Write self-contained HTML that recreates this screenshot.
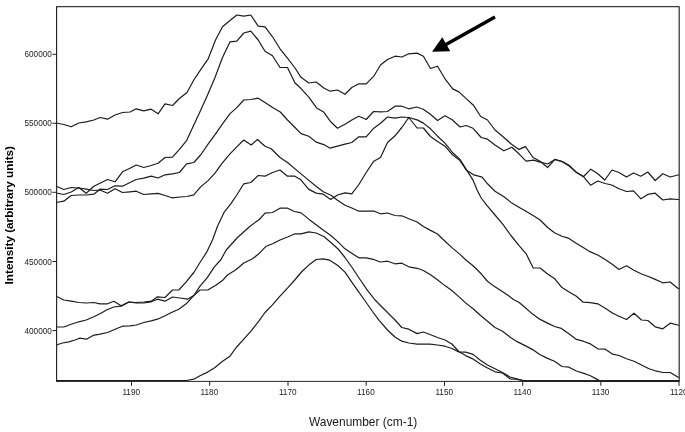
<!DOCTYPE html>
<html><head><meta charset="utf-8"><title>Spectra</title>
<style>
html,body{margin:0;padding:0;background:#fff;}
body{width:685px;height:432px;overflow:hidden;font-family:"Liberation Sans",Arial,sans-serif;}
svg{display:block}
.c path{fill:none;stroke:#1c1c1c;stroke-width:1.2;stroke-linejoin:round;stroke-linecap:butt}
.tk{font-size:8.2px;fill:#222}
</style></head><body>
<svg width="685" height="432" viewBox="0 0 685 432" font-family="Liberation Sans, Arial, sans-serif">
<rect width="685" height="432" fill="#fff"/>
<defs><clipPath id="cp"><rect x="56" y="6" width="623.6" height="375.9"/></clipPath></defs>

<g class="c" clip-path="url(#cp)">
<path d="M56.2 123.0 L63.8 124.5 L71.2 126.8 L78.8 123.0 L86.2 121.8 L93.8 120.0 L100.0 117.5 L107.5 119.2 L115.0 115.0 L122.5 112.5 L130.0 112.0 L136.2 108.8 L143.8 110.8 L151.2 109.2 L158.1 113.8 L165.0 103.8 L172.5 105.5 L179.4 98.5 L187.0 92.5 L193.8 80.0 L201.2 68.8 L208.2 58.8 L215.5 40.0 L222.5 26.8 L230.0 20.5 L236.8 15.0 L243.8 16.2 L250.8 15.0 L258.2 26.2 L265.0 26.8 L272.5 36.8 L280.0 48.8 L287.5 58.2 L295.0 68.0 L301.0 77.3 L308.8 83.0 L316.2 82.0 L323.8 88.0 L330.2 91.2 L337.5 90.0 L345.0 94.2 L351.8 87.5 L358.8 83.8 L366.2 83.8 L373.8 76.2 L380.5 65.0 L387.5 59.5 L395.0 56.2 L401.8 57.0 L408.8 53.8 L417.1 53.1 L423.4 56.2 L430.5 68.5 L437.5 66.2 L445.0 78.8 L452.7 88.9 L458.8 91.9 L466.2 98.6 L473.4 105.2 L480.7 116.5 L487.5 120.0 L495.0 130.0 L502.5 136.2 L510.9 143.7 L518.9 149.4 L525.5 146.6 L533.0 157.5 L540.1 161.2 L547.6 167.5 L554.9 159.4 L562.2 161.5 L569.5 166.2 L576.4 172.2 L583.6 176.5 L590.8 169.2 L597.8 173.8 L604.8 180.0 L612.0 170.0 L619.0 172.5 L626.5 177.0 L633.5 173.0 L640.8 176.2 L647.8 172.0 L655.2 180.5 L662.8 173.8 L670.2 177.0 L677.8 175.0 L679.2 174.8"/>
<path d="M56.2 193.0 L63.8 194.5 L71.2 192.0 L78.8 187.5 L86.2 193.2 L93.8 186.2 L100.0 183.2 L107.5 179.5 L115.0 181.8 L122.5 171.8 L130.0 168.2 L136.2 165.0 L143.8 167.5 L151.2 165.5 L158.1 163.2 L165.0 157.5 L172.5 157.2 L179.4 149.4 L186.6 140.6 L193.8 125.0 L200.2 111.3 L207.0 96.2 L215.0 77.5 L222.5 57.5 L230.0 41.8 L236.8 41.2 L243.8 33.0 L250.8 31.2 L258.2 40.0 L265.0 51.2 L272.5 55.8 L280.0 67.5 L287.5 67.5 L295.0 83.0 L300.8 88.3 L308.8 97.2 L316.6 107.9 L323.6 111.9 L330.2 121.2 L337.5 128.2 L345.0 124.2 L351.8 120.0 L358.8 116.2 L366.2 119.5 L373.6 111.5 L380.5 111.8 L387.5 111.5 L395.0 106.2 L401.8 106.2 L408.8 108.8 L416.7 107.0 L423.2 109.2 L430.4 114.3 L437.5 120.5 L445.0 115.8 L452.5 120.0 L460.0 127.0 L466.2 125.5 L473.1 128.3 L481.2 137.5 L487.5 139.2 L495.0 145.0 L503.8 150.8 L511.9 147.2 L518.9 153.8 L526.1 161.2 L533.6 160.2 L540.1 162.1 L547.6 164.0 L554.9 159.5 L562.2 161.6 L569.5 165.6 L576.4 172.5 L583.8 177.1 L590.6 185.2 L597.8 181.0 L605.0 183.5 L611.8 185.0 L619.0 188.8 L626.5 191.5 L633.5 190.8 L640.9 198.8 L647.8 194.4 L655.2 193.2 L662.8 200.0 L670.2 198.8 L677.8 199.5 L679.2 199.6"/>
<path d="M56.2 202.5 L63.8 201.2 L71.2 195.5 L78.8 195.0 L86.2 195.0 L93.8 194.2 L100.0 189.2 L107.5 189.5 L115.0 185.8 L122.5 186.2 L130.0 182.5 L136.2 179.5 L143.8 178.2 L151.2 176.2 L158.1 178.0 L165.0 174.8 L172.5 173.8 L179.4 172.5 L186.6 163.8 L193.8 162.5 L200.6 155.0 L207.9 144.4 L215.2 134.4 L222.2 124.3 L230.0 113.6 L236.3 108.1 L243.8 100.0 L250.8 99.5 L258.2 98.2 L265.0 102.5 L273.4 108.1 L280.3 112.0 L287.5 120.0 L295.0 127.5 L301.0 133.6 L308.8 136.2 L316.2 142.1 L323.8 144.6 L330.2 148.2 L337.5 146.2 L345.0 144.2 L351.8 142.5 L358.8 136.8 L366.2 136.8 L373.8 128.2 L380.5 123.2 L387.5 117.0 L395.0 118.2 L401.8 117.0 L408.8 117.5 L417.1 119.9 L423.4 123.1 L430.5 128.8 L437.5 136.2 L445.0 143.1 L452.5 152.5 L460.0 159.4 L466.2 169.4 L473.0 180.1 L477.1 189.9 L481.2 198.0 L487.5 206.2 L495.0 215.0 L502.5 223.8 L510.9 235.5 L518.9 245.4 L526.4 254.2 L533.2 268.0 L540.1 268.0 L547.6 274.0 L554.8 278.8 L562.0 287.6 L569.5 292.2 L576.4 296.2 L583.2 302.2 L590.4 302.6 L597.8 303.8 L605.2 308.2 L612.8 313.2 L619.0 316.2 L626.5 319.5 L634.0 313.2 L641.5 320.0 L647.8 320.5 L655.2 326.8 L662.8 328.8 L670.2 323.2 L677.8 325.0 L679.2 325.2"/>
<path d="M56.2 186.2 L63.8 189.5 L71.2 187.5 L78.8 188.0 L86.2 189.2 L93.8 190.5 L100.0 190.0 L107.5 193.2 L115.0 188.8 L122.5 192.5 L130.0 191.8 L136.2 191.2 L143.8 194.5 L151.2 193.8 L158.1 193.4 L165.0 195.5 L171.9 197.8 L180.0 197.0 L186.9 196.5 L193.8 194.8 L200.6 186.9 L208.1 180.6 L215.0 173.1 L222.2 163.2 L230.0 153.8 L237.5 146.2 L243.8 140.0 L251.2 145.0 L257.5 139.5 L265.0 146.2 L271.2 148.8 L280.0 157.5 L287.5 162.5 L297.1 170.6 L307.1 178.9 L315.4 185.8 L323.3 191.7 L331.4 195.5 L337.2 200.0 L345.0 205.2 L351.8 208.0 L358.8 211.2 L366.2 211.2 L374.3 211.2 L380.5 213.8 L387.5 213.0 L395.0 215.5 L401.8 215.8 L408.8 218.8 L417.1 222.0 L423.4 226.5 L430.5 230.4 L437.5 234.0 L445.0 241.2 L452.5 248.1 L460.0 254.4 L466.2 260.2 L473.1 265.8 L481.2 273.8 L487.2 281.0 L493.1 285.6 L500.0 290.0 L507.5 295.0 L513.8 299.7 L518.9 302.2 L525.1 307.5 L532.6 314.1 L540.1 319.4 L547.6 323.1 L554.5 326.5 L561.4 328.4 L568.9 333.8 L576.4 339.4 L583.2 341.2 L590.4 343.9 L597.8 348.8 L605.2 349.2 L612.8 354.2 L619.0 355.5 L626.5 358.8 L634.0 361.2 L641.5 365.0 L649.0 368.8 L655.2 370.8 L662.8 372.5 L670.2 372.5 L677.8 377.0 L679.2 377.4"/>
<path d="M56.2 296.2 L63.8 300.0 L71.2 301.2 L78.8 302.5 L86.2 303.0 L93.8 302.5 L100.0 303.8 L107.5 303.8 L113.8 301.2 L121.2 305.8 L128.8 302.0 L136.2 302.5 L143.8 302.0 L151.2 301.2 L157.5 296.8 L165.0 297.5 L172.5 290.0 L178.8 290.0 L186.2 281.8 L193.8 272.5 L200.0 262.5 L206.9 251.8 L212.5 240.0 L217.5 226.2 L224.4 211.8 L230.6 204.2 L236.8 195.0 L243.8 183.8 L250.8 182.5 L258.2 175.5 L265.0 176.2 L272.5 172.5 L280.0 170.0 L287.5 176.2 L295.0 176.2 L300.8 179.8 L308.8 189.4 L316.2 193.1 L323.3 194.2 L330.6 199.4 L337.5 195.0 L345.0 192.8 L351.8 193.8 L359.2 184.0 L366.2 172.5 L373.8 161.2 L380.5 157.5 L387.5 142.5 L395.0 135.8 L401.8 127.5 L408.8 117.5 L417.1 128.0 L423.4 128.0 L430.5 136.5 L437.5 141.5 L445.0 146.2 L452.5 154.8 L460.0 160.6 L466.2 170.0 L473.1 174.6 L482.1 177.1 L487.5 183.8 L495.0 191.2 L504.0 196.7 L511.9 203.1 L518.9 207.2 L526.4 211.6 L533.9 216.0 L540.1 220.0 L547.6 227.5 L554.5 232.8 L562.0 236.2 L568.2 238.1 L575.8 243.0 L583.2 247.5 L590.4 251.9 L597.8 255.0 L605.2 259.5 L611.5 263.8 L619.0 269.5 L626.5 265.8 L633.5 270.0 L641.0 273.8 L647.8 276.2 L655.2 279.4 L662.8 282.8 L670.2 282.0 L677.8 288.2 L679.2 288.8"/>
<path d="M56.2 327.0 L63.8 327.0 L71.2 324.2 L78.8 321.8 L86.2 320.0 L93.8 316.8 L100.0 313.8 L107.5 309.5 L113.8 307.0 L121.2 306.2 L128.8 302.0 L136.2 303.0 L143.8 303.0 L151.2 301.8 L157.5 299.2 L165.0 301.2 L172.5 297.0 L180.0 298.0 L187.5 299.2 L193.8 295.5 L200.0 290.0 L207.8 290.0 L215.8 285.2 L222.4 280.6 L227.5 275.0 L236.2 269.5 L243.8 263.0 L252.5 258.8 L258.8 253.8 L266.2 246.2 L272.5 243.8 L280.0 240.0 L287.5 237.0 L295.0 233.8 L301.0 233.8 L308.8 231.8 L316.2 233.0 L323.8 236.5 L330.9 242.5 L338.1 249.0 L345.0 257.5 L352.1 267.5 L359.7 279.0 L367.3 290.2 L374.6 299.5 L380.0 305.0 L387.5 312.5 L395.0 320.0 L401.8 327.5 L408.8 329.2 L417.1 333.6 L423.4 332.0 L430.0 334.5 L437.5 337.5 L445.0 340.0 L451.9 344.0 L458.8 351.5 L465.6 355.6 L472.2 358.6 L480.0 363.8 L487.5 368.0 L495.0 371.8 L502.5 373.0 L510.0 378.8 L516.2 379.2 L525.0 381.2"/>
<path d="M56.2 345.0 L62.5 343.0 L68.8 341.8 L75.0 340.0 L79.5 338.2 L86.5 339.2 L93.1 335.4 L100.0 334.2 L107.5 332.5 L115.0 329.2 L122.5 326.2 L130.0 325.8 L136.2 325.0 L143.8 322.5 L151.2 320.8 L157.5 319.2 L165.0 315.8 L172.5 312.0 L178.8 309.2 L186.2 303.8 L193.8 295.5 L200.0 286.2 L206.9 278.1 L214.4 266.9 L221.0 259.5 L226.2 250.0 L237.5 237.5 L250.0 226.2 L259.3 219.5 L265.0 213.1 L272.5 212.5 L280.0 208.2 L287.5 208.2 L294.4 211.5 L301.1 212.9 L309.1 219.4 L318.1 226.2 L323.8 230.5 L330.2 235.0 L338.1 241.9 L345.0 248.8 L352.1 253.5 L358.8 257.8 L366.2 257.8 L374.3 259.7 L380.5 262.0 L387.5 261.2 L395.0 263.8 L401.8 263.2 L408.8 266.8 L417.1 268.3 L423.4 270.5 L430.5 274.8 L437.4 279.8 L444.9 285.6 L451.5 290.3 L458.8 296.6 L465.6 302.9 L473.1 308.8 L480.0 315.0 L487.5 321.2 L495.0 327.5 L502.5 331.2 L510.9 337.8 L517.6 341.9 L525.1 345.6 L532.6 349.6 L540.1 354.8 L547.6 358.4 L554.5 361.2 L562.0 366.5 L568.9 367.2 L576.4 371.0 L583.9 373.4 L590.4 375.8 L599.0 380.4"/>
<path d="M56.2 380.5 L186.2 380.5 L193.8 379.2 L200.0 375.8 L207.7 372.1 L215.0 367.5 L222.2 361.5 L230.0 356.2 L236.2 347.5 L243.8 339.2 L251.2 330.8 L258.8 321.2 L265.0 312.5 L272.2 305.1 L280.0 296.2 L287.5 288.1 L294.7 280.0 L301.9 271.5 L309.4 264.6 L316.2 259.5 L323.1 258.8 L329.6 260.2 L337.5 265.2 L345.0 272.1 L351.6 281.9 L358.5 291.7 L366.2 302.5 L372.5 311.5 L379.1 320.4 L387.5 330.0 L395.0 337.0 L401.8 341.2 L408.8 343.0 L417.1 344.2 L423.0 344.2 L430.0 344.2 L437.5 345.0 L445.0 346.2 L451.9 348.5 L458.8 351.9 L465.6 352.1 L473.1 354.4 L480.0 360.0 L487.5 365.0 L495.0 368.8 L502.5 372.5 L510.0 377.0 L517.5 379.2 L525.0 381.2"/>
<path d="M56.6 380.6 L186.5 380.6"/>
<path d="M524 380.8 L679 380.8"/>
<path d="M524 380.8 L679 380.8"/>
<path d="M599 380.8 L679 380.8"/>
</g>

<g fill="none" stroke="#222">
<path d="M56.6 6.6 H679.2" stroke-width="1.1" stroke="#3a3a3a"/>
<path d="M679.2 6.6 V381.4" stroke-width="1.2" stroke="#2a2a2a"/>
<path d="M56.6 6.199999999999999 V381.79999999999995" stroke-width="1.15" stroke="#222"/>
<path d="M56.0 381.4 H679.7" stroke-width="0.95" stroke="#1a1a1a"/>
<path d="M131.5 381.4 V385.8" stroke-width="1"/>
<path d="M209.7 381.4 V385.8" stroke-width="1"/>
<path d="M288 381.4 V385.8" stroke-width="1"/>
<path d="M366.2 381.4 V385.8" stroke-width="1"/>
<path d="M444.5 381.4 V385.8" stroke-width="1"/>
<path d="M522.7 381.4 V385.8" stroke-width="1"/>
<path d="M600.8 381.4 V385.8" stroke-width="1"/>
<path d="M679.0 381.4 V385.8" stroke-width="1"/>
<path d="M52.4 54.3 H56.6" stroke-width="1"/>
<path d="M52.4 123.3 H56.6" stroke-width="1"/>
<path d="M52.4 192.3 H56.6" stroke-width="1"/>
<path d="M52.4 261.5 H56.6" stroke-width="1"/>
<path d="M52.4 330.6 H56.6" stroke-width="1"/>
</g>
<g class="tk" text-anchor="middle">
<text x="131.2" y="394.8">1190</text>
<text x="209.39999999999998" y="394.8">1180</text>
<text x="287.7" y="394.8">1170</text>
<text x="365.9" y="394.8">1160</text>
<text x="444.2" y="394.8">1150</text>
<text x="522.4000000000001" y="394.8">1140</text>
<text x="600.5" y="394.8">1130</text>
<text x="678.7" y="394.8">1120</text>
</g><g class="tk" text-anchor="end">
<text x="51.8" y="57.3">600000</text>
<text x="51.8" y="126.3">550000</text>
<text x="51.8" y="195.3">500000</text>
<text x="51.8" y="264.5">450000</text>
<text x="51.8" y="333.6">400000</text>
</g>
<text x="363.1" y="426" text-anchor="middle" font-size="11.95px" fill="#1a1a1a">Wavenumber (cm-1)</text>
<text transform="translate(12.8,215.2) rotate(-90)" text-anchor="middle" font-size="11.75px" font-weight="bold" fill="#000">Intensity (arbitrary units)</text>
<path d="M495 17 L446 44.5" stroke="#000" stroke-width="3.5" fill="none"/>
<path d="M432 51.8 L442.3 37.3 L450.3 51.3 Z" fill="#000"/>
</svg></body></html>
